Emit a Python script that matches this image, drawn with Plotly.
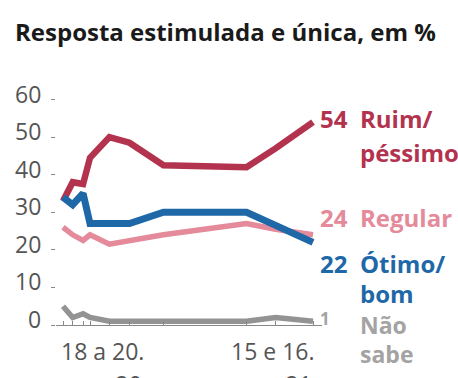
import plotly.graph_objects as go
import pandas as pd

# ---- data ----
dates = ["2020-03-19", "2020-04-02", "2020-04-17", "2020-04-27", "2020-05-25",
         "2020-06-23", "2020-08-11", "2020-12-09", "2021-01-20", "2021-03-15"]
ruim_pessimo = [33, 38, 37.5, 44.5, 50, 48.5, 42.5, 42, 47, 54]
regular = [26, 24, 22.5, 24, 21.5, 22.5, 24, 27, 25.5, 24]
otimo_bom = [34, 32, 35, 27, 27, 27, 30, 30, 26.5, 22]
nao_sabe = [5, 2, 3, 2, 1, 1, 1, 1, 2, 1]
y_ticks = [0, 10, 20, 30, 40, 50, 60]
x_label_line1 = ["18 a 20.", "15 e 16."]
x_label_line2 = ["mar.20", "mar.21"]
title = "Resposta estimulada e única, em %"

RED = "#b3334f"
PINK = "#e48a9a"
BLUE = "#1f68a8"
GRAY = "#999999"
FONT = "Open Sans"

# ---- layout geometry ----
WIDTH, HEIGHT = 458, 378
L, R, T, B = 56, 136, 92, 53
PW, PH = WIDTH - L - R, HEIGHT - T - B

# x range: first survey at pixel 63, last at 313
d0, d1 = pd.Timestamp(dates[0]), pd.Timestamp(dates[-1])
ppd = (313 - 63) / ((d1 - d0).days)
x_start = d0 - pd.Timedelta(days=(63 - L) / ppd)
x_end = d1 + pd.Timedelta(days=(L + PW - 313) / ppd)


def px_x(px):
    return (px - L) / PW


def px_y(py):
    return (HEIGHT - B - py) / PH


fig = go.Figure()
series = [
    (regular, PINK, 5.5),
    (nao_sabe, "#939393", 5.5),
    (ruim_pessimo, RED, 6.5),
    (otimo_bom, BLUE, 7),
]
for vals, col, w in series:
    fig.add_trace(go.Scatter(x=dates, y=vals, mode="lines",
                             line=dict(color=col, width=w),
                             hoverinfo="skip", showlegend=False, cliponaxis=False))

ann = []
# title
ann.append(dict(text="<b>" + title + "</b>", x=px_x(13), y=px_y(32), xref="paper", yref="paper",
                xanchor="left", yanchor="middle", showarrow=False,
                font=dict(family=FONT, size=24, color="#1a1a1a")))
# y tick labels
for v in y_ticks:
    ann.append(dict(text=str(v), x=px_x(43), y=v, xref="paper", yref="y",
                    xanchor="right", yanchor="middle", yshift=6, showarrow=False,
                    font=dict(family=FONT, size=23, color="#555555")))
# x labels (second line cut off by the page edge, as in the reference)
for l1, l2, px in zip(x_label_line1, x_label_line2, [59, 229]):
    ann.append(dict(text=l1, x=px_x(px), y=px_y(351), xref="paper", yref="paper",
                    xanchor="left", yanchor="middle", showarrow=False,
                    font=dict(family=FONT, size=23, color="#555555")))
    ann.append(dict(text=l2, x=px_x(px + 45), y=px_y(384), xref="paper", yref="paper",
                    xanchor="center", yanchor="middle", showarrow=False,
                    font=dict(family=FONT, size=23, color="#555555")))


# end labels
def end_label(val, name_lines, color, yshift, gap, size=24, numsize=None, numdy=0):
    numsize = numsize or size
    ann.append(dict(text="<b>%g</b>" % val, x=dates[-1], y=val, xref="x", yref="y",
                    xanchor="left", yanchor="middle", xshift=5, yshift=yshift + numdy,
                    showarrow=False, font=dict(family=FONT, size=numsize, color=color)))
    for i, ln in enumerate(name_lines):
        ann.append(dict(text="<b>" + ln + "</b>", x=dates[-1], y=val, xref="x", yref="y",
                        xanchor="left", yanchor="middle", xshift=45, yshift=yshift - gap * i,
                        showarrow=False, font=dict(family=FONT, size=size, color=color)))


end_label(ruim_pessimo[-1], ["Ruim/", "péssimo"], RED, 4, 34)
end_label(regular[-1], ["Regular"], PINK, 17, 0)
end_label(otimo_bom[-1], ["Ótimo/", "bom"], BLUE, -21, 30)
end_label(nao_sabe[-1], ["Não", "sabe"], "#a3a3a3", -4, 29, size=23, numsize=17, numdy=7)

fig.update_layout(
    width=WIDTH, height=HEIGHT,
    margin=dict(l=L, r=R, t=T, b=B, autoexpand=False),
    paper_bgcolor="white", plot_bgcolor="white",
    annotations=ann,
    xaxis=dict(range=[x_start, x_end], showgrid=False, zeroline=False,
               showline=True, linecolor="#888888", linewidth=1,
               tickvals=dates, ticks="inside", ticklen=4, tickcolor="#888888",
               showticklabels=False, fixedrange=True),
    yaxis=dict(range=[0, 62], showgrid=False, zeroline=False,
               tickvals=y_ticks, ticks="outside", ticklen=4,
               tickcolor="#888888", showticklabels=False, showline=False, fixedrange=True),
)
fig.write_html("out.html")
